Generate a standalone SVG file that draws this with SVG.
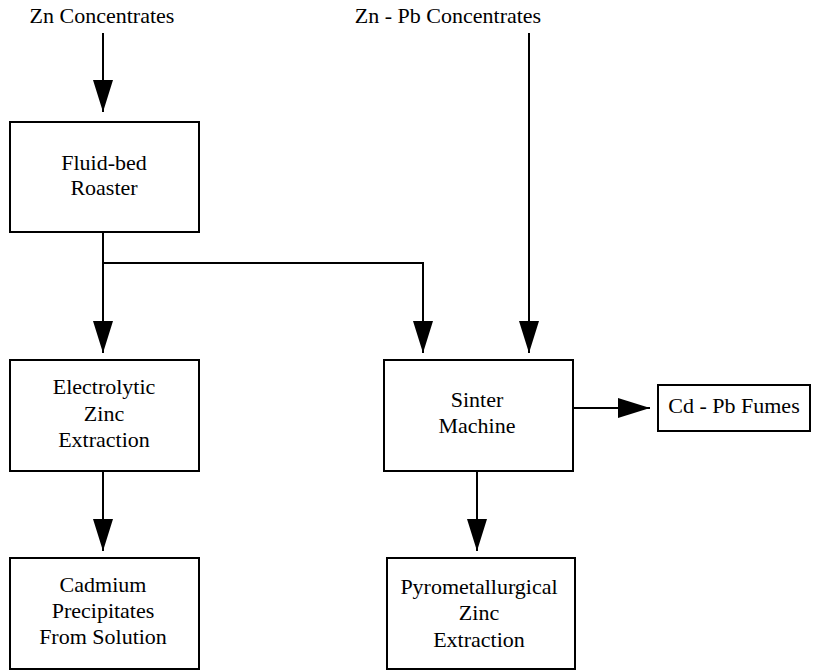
<svg xmlns="http://www.w3.org/2000/svg" width="817" height="670" viewBox="0 0 817 670">
  <style>
    text { font-family: "Liberation Serif", "Times New Roman", serif; font-size: 22px; fill: #000; text-anchor: middle; }
    .box { fill: #fff; stroke: #000; stroke-width: 2; }
    .wire { fill: none; stroke: #000; stroke-width: 2; }
  </style>
  <defs>
    <marker id="arrow" markerUnits="userSpaceOnUse" markerWidth="32" markerHeight="20" viewBox="0 0 32 20" refX="32" refY="10" orient="auto">
      <path d="M0,0 L32,10 L0,20 Z" fill="#000"/>
    </marker>
  </defs>

  <!-- feed labels -->
  <text x="102" y="23">Zn Concentrates</text>
  <text x="448" y="23">Zn - Pb Concentrates</text>

  <!-- connectors -->
  <g id="connectors">
    <path class="wire" d="M103,33 V112" marker-end="url(#arrow)"/>
    <path class="wire" d="M103,232 V353" marker-end="url(#arrow)"/>
    <path class="wire" d="M103,263 H423 V353" marker-end="url(#arrow)"/>
    <path class="wire" d="M529,33 V353" marker-end="url(#arrow)"/>
    <path class="wire" d="M570,408 H650" marker-end="url(#arrow)"/>
    <path class="wire" d="M103,471 V551" marker-end="url(#arrow)"/>
    <path class="wire" d="M477,471 V551" marker-end="url(#arrow)"/>
  </g>

  <g id="roaster">
    <rect class="box" x="10" y="122" width="189" height="110"/>
    <text x="104" y="170">Fluid-bed</text>
    <text x="104" y="195">Roaster</text>
  </g>

  <g id="electrolytic">
    <rect class="box" x="10" y="360" width="189" height="111"/>
    <text x="104" y="394">Electrolytic</text>
    <text x="104" y="421">Zinc</text>
    <text x="104" y="447">Extraction</text>
  </g>

  <g id="sinter">
    <rect class="box" x="384" y="360" width="189" height="111"/>
    <text x="477" y="407">Sinter</text>
    <text x="477" y="433">Machine</text>
  </g>

  <g id="fumes">
    <rect class="box" x="658" y="385" width="152" height="46"/>
    <text x="734" y="413">Cd - Pb Fumes</text>
  </g>

  <g id="cadmium">
    <rect class="box" x="10" y="558" width="189" height="111"/>
    <text x="103" y="592">Cadmium</text>
    <text x="103" y="618">Precipitates</text>
    <text x="103" y="644">From Solution</text>
  </g>

  <g id="pyro">
    <rect class="box" x="387" y="558" width="188" height="111"/>
    <text x="479" y="594">Pyrometallurgical</text>
    <text x="479" y="620">Zinc</text>
    <text x="479" y="647">Extraction</text>
  </g>
</svg>
